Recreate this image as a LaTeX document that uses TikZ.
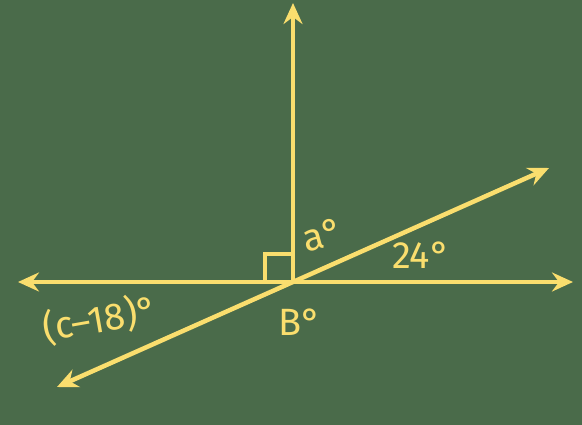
\documentclass[tikz,border=0pt]{standalone}
\usepackage{fontspec}
\setmainfont{Fira Sans}
\usetikzlibrary{arrows.meta,positioning}
\definecolor{board}{RGB}{74,107,74}
\definecolor{chalk}{RGB}{250,222,110}

\begin{document}
\begin{tikzpicture}[x=1pt,y=-1pt]
\fill[board] (0,0) rectangle (582,425);
\useasboundingbox (0,0) rectangle (582,425);

\begin{scope}[every node/.style={text=chalk,inner sep=0pt,font=\fontsize{38}{44}\selectfont}]
    \coordinate (O) at (293,282);
    \coordinate (T) at (293,3);
    \coordinate (L) at (18,282);
    \coordinate (R) at (573,282);
    \coordinate (DL) at (57,387);
    \coordinate (UR) at (549,168);
    \coordinate (Q) at (265,254);
    \node[rotate=15] (a) at (323,235) {a°};
    \node (b) at (300,322) {B°};
    \node (d) at (421,255) {24°};
    \node[rotate=10] (c) at (100,319) {(c–18)°};
\end{scope}

\begin{scope}[>={Stealth[chalk,length=21pt,width=19pt,inset=7pt]},
              every edge/.style={draw=chalk,line width=4.5pt}]
    \path [<->] (L) edge (R);
    \path [<->] (DL) edge (UR);
    \path [->] (O) edge (T);
\end{scope}

\draw[chalk,line width=3.5pt] (Q |- O) -- (Q) -- (O |- Q);
\end{tikzpicture}
\end{document}
